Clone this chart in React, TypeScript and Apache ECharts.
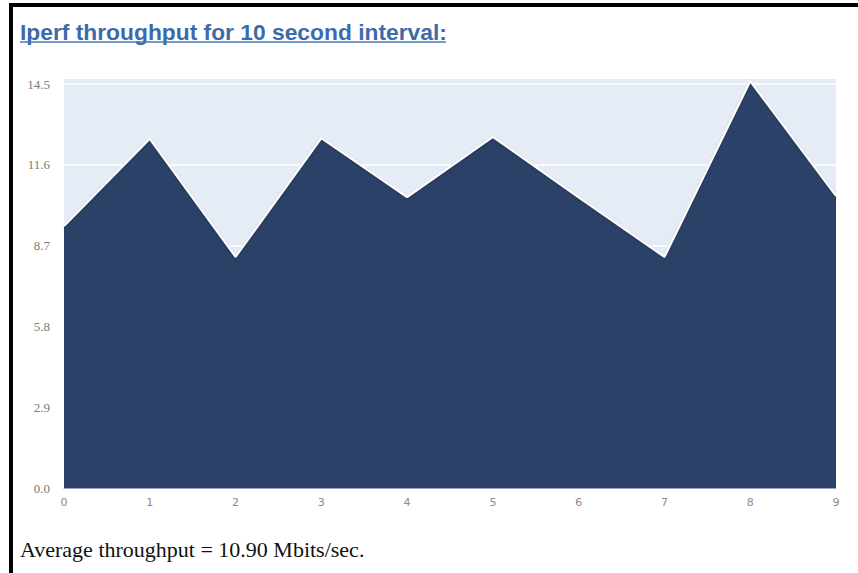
import React, { useEffect, useRef } from "react";
import * as echarts from "echarts";

const seconds = ["0", "1", "2", "3", "4", "5", "6", "7", "8", "9"];
const throughput = [9.4, 12.53, 8.29, 12.56, 10.44, 12.6, 10.43, 8.29, 14.6, 10.48];
const yTickStep = 2.9;
const yMax = 14.5;
const titleText = "Iperf throughput for 10 second interval:";
const averageText = "Average throughput = 10.90 Mbits/sec.";

export default function App() {
  const ref = useRef<HTMLDivElement>(null);
  useEffect(() => {
    if (!ref.current) return;
    const chart = echarts.init(ref.current, null, { renderer: "svg" });
    chart.setOption({
      animation: false,
      backgroundColor: "#ffffff",
      grid: {
        left: 64,
        right: 22,
        top: 84,
        bottom: 85,
        show: true,
        backgroundColor: "#e6ecf5",
        borderWidth: 0,
      },
      xAxis: {
        type: "category",
        data: seconds,
        boundaryGap: false,
        axisLine: { show: true, lineStyle: { color: "#9aa6bc", width: 1 } },
        axisTick: { show: false },
        axisLabel: {
          color: "#8a8a8a",
          fontSize: 11,
          fontFamily: "DejaVu Sans",
          margin: 9,
          interval: 0,
        },
        splitLine: { show: false },
      },
      yAxis: {
        type: "value",
        min: 0,
        max: yMax,
        interval: yTickStep,
        axisLine: { show: false },
        axisTick: { show: false },
        axisLabel: {
          color: "#7a7a7a",
          fontSize: 13,
          fontFamily: "Liberation Serif",
          margin: 14,
          formatter: (v: number) => v.toFixed(1),
        },
        splitLine: { show: true, lineStyle: { color: "#ffffff", width: 1.5 } },
      },
      series: [
        {
          type: "line",
          data: throughput,
          clip: false,
          symbol: "none",
          z: 5,
          lineStyle: {
            color: "#ffffff",
            width: 2,
            shadowColor: "rgba(0,0,0,0.25)",
            shadowBlur: 2,
            shadowOffsetY: 1,
          },
          areaStyle: { color: "#2b4168", opacity: 1 },
        },
      ],
      graphic: [
        { type: "rect", z: -1, shape: { x: 0, y: 0, width: 858, height: 573 }, style: { fill: "#ffffff" }, silent: true },
        { type: "rect", z: 0, shape: { x: 64, y: 79, width: 772, height: 5 }, style: { fill: "#e6ecf5" }, silent: true },
        { type: "rect", z: 10, shape: { x: 9, y: 3, width: 849, height: 4 }, style: { fill: "#000000" } },
        { type: "rect", z: 10, shape: { x: 9, y: 3, width: 4, height: 570 }, style: { fill: "#000000" } },
        {
          type: "text",
          z: 10,
          x: 20,
          y: 43,
          style: {
            text: titleText,
            fill: "#3d6aa8",
            font: "bold 22.8px 'Liberation Sans', Arial, sans-serif",
            textVerticalAlign: "bottom",
            verticalAlign: "bottom",
          },
        },
        {
          type: "line",
          z: 10,
          shape: { x1: 20, y1: 42, x2: 446, y2: 42 },
          style: { stroke: "#4a78b4", lineWidth: 1.5 },
        },
        {
          type: "text",
          z: 10,
          x: 20,
          y: 560,
          style: {
            text: averageText,
            fill: "#111111",
            font: "22px 'Liberation Serif', 'Times New Roman', serif",
            textVerticalAlign: "bottom",
            verticalAlign: "bottom",
          },
        },
      ],
    });
    return () => chart.dispose();
  }, []);
  return (
    <div
      ref={ref}
      style={{ position: "fixed", left: 0, top: 0, width: 858, height: 573 }}
    />
  );
}
